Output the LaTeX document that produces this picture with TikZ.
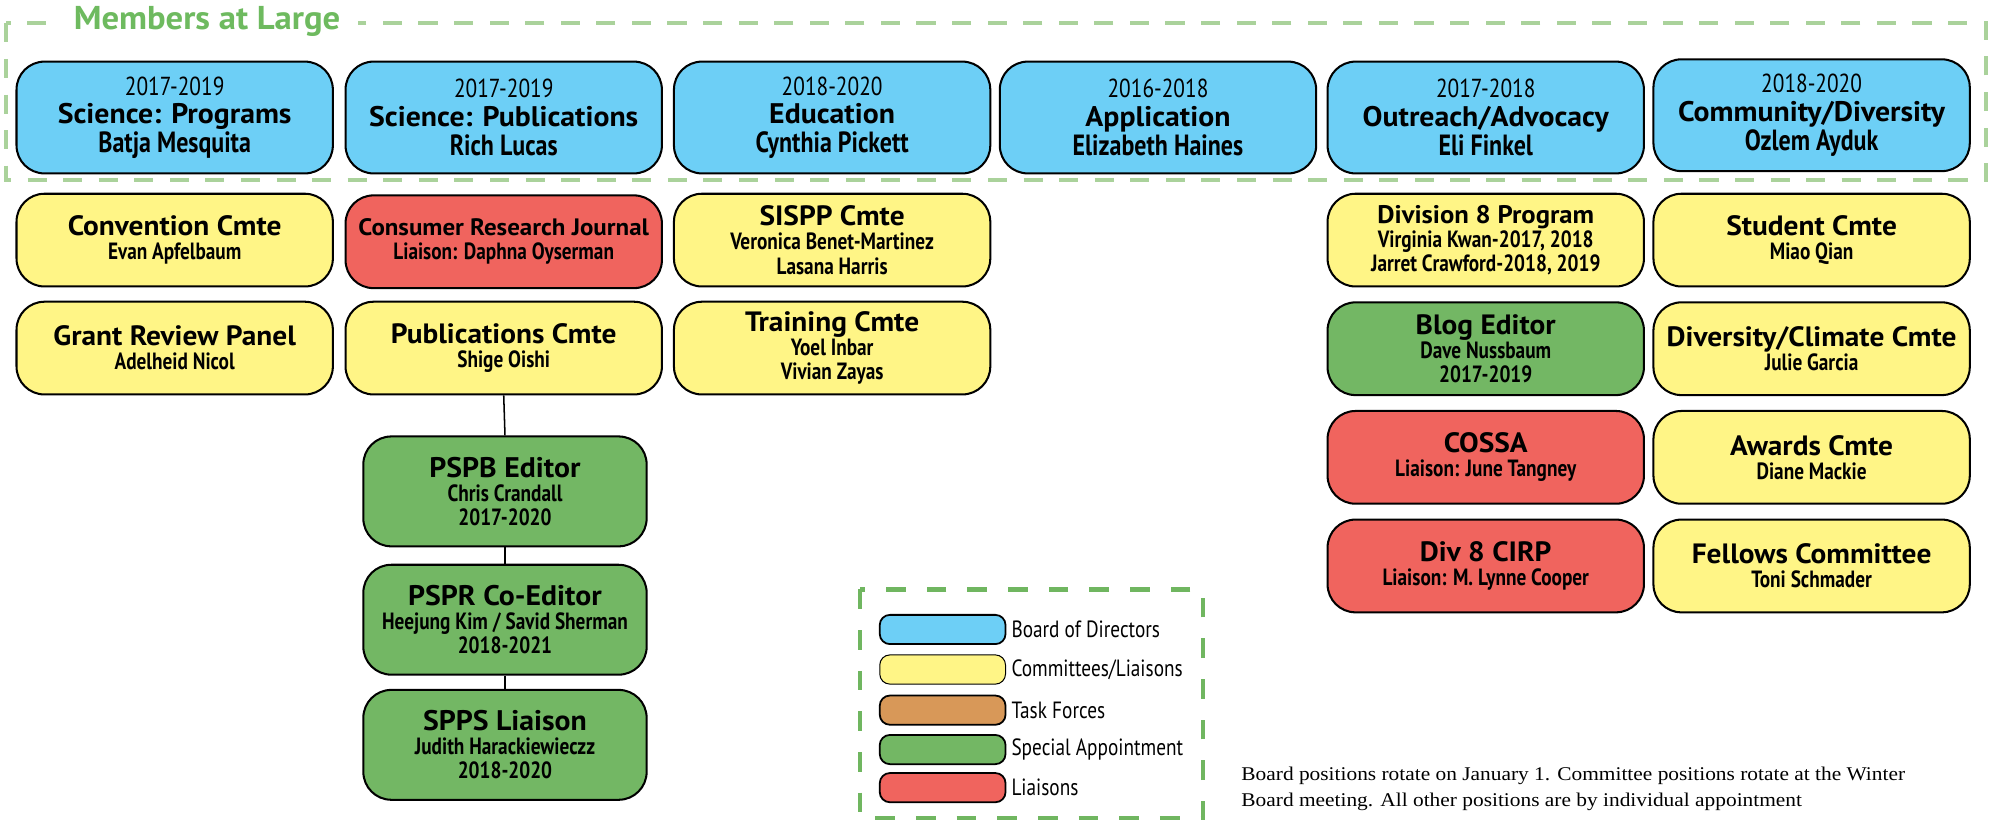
\documentclass[tikz,border=0pt]{standalone}
\usepackage{fontspec}
\setmainfont{PT Sans}
\newfontfamily\semifont[FakeStretch=1.05]{PT Sans}
\newfontfamily\condfont[FakeStretch=0.82]{PT Sans}
\newfontfamily\notefont[FakeStretch=1.1]{Liberation Serif}
\usepackage{xcolor}
\usetikzlibrary{positioning}

\definecolor{boardblue}{RGB}{109,207,246}
\definecolor{cmteyellow}{RGB}{255,245,134}
\definecolor{liaisonred}{RGB}{240,100,94}
\definecolor{specialgreen}{RGB}{115,183,100}
\definecolor{taskbrown}{RGB}{216,152,88}
\definecolor{largegreen}{RGB}{170,210,155}
\definecolor{legendgreen}{RGB}{112,182,96}
\definecolor{titlegreen}{RGB}{110,186,95}

% text pieces inside the boxes
\newcommand{\boxyear}[1]{{\condfont\fontsize{20.5}{22}\selectfont #1}}
\newcommand{\boxhead}[1]{{\semifont\bfseries\fontsize{22.3}{22}\selectfont #1}}
\newcommand{\bighead}[1]{{\semifont\bfseries\fontsize{22}{22}\selectfont #1}}
\newcommand{\midhead}[1]{{\semifont\bfseries\fontsize{20}{20}\selectfont #1}}
\newcommand{\boxwho}[1]{{\condfont\bfseries\fontsize{23}{22}\selectfont #1}}
\newcommand{\smallwho}[1]{{\condfont\bfseries\fontsize{18.5}{18}\selectfont #1}}
\newcommand{\condhead}[1]{{\semifont\bfseries\fontsize{18.7}{19}\selectfont #1}}

\tikzset{
  orgbox/.style={draw=black, line width=1.6pt, rounded corners=22pt,
    minimum width=249pt, align=center, inner sep=0pt},
  boardbox/.style={orgbox, fill=boardblue, minimum height=88pt,
    font=\fontsize{21}{22.5}\selectfont},
  cmtebox/.style={orgbox, fill=cmteyellow, minimum height=73pt,
    font=\fontsize{18}{19}\selectfont},
  liaisonbox/.style={orgbox, fill=liaisonred, minimum height=73pt,
    font=\fontsize{18}{19}\selectfont},
  specialbox/.style={orgbox, fill=specialgreen, minimum height=73pt,
    font=\fontsize{18}{19}\selectfont},
  editorbox/.style={specialbox, minimum width=223pt, minimum height=86.5pt},
  keybox/.style={draw=black, line width=1.4pt, rounded corners=8pt,
    minimum width=99pt, minimum height=23pt, inner sep=0pt},
  keytext/.style={anchor=west, inner sep=0pt,
    font=\condfont\fontsize{18.5}{20}\selectfont},
  link/.style={draw=black, line width=1.2pt}
}

\begin{document}
\begin{tikzpicture}[x=1pt, y=-1pt]
\useasboundingbox (0,0) rectangle (1568,649.4);

% Members at large frame
\draw[largegreen, line width=3pt, dash pattern=on 15pt off 13pt]
  (5,18.4) rectangle (1563.4,141.7);
\node[fill=white, inner xsep=14pt, inner ysep=2pt, text=titlegreen,
  font=\semifont\bfseries\fontsize{26}{26}\selectfont] (large) at (163,17) {Members at Large};

% Board of directors
\node[boardbox] (sciprog) at (137.5,92.5) {\boxyear{2017-2019}\\\boxhead{Science: Programs}\\\boxwho{Batja Mesquita}};
\node[boardbox] (scipub) at (396.5,92.5) {\boxyear{2017-2019}\\\boxhead{Science: Publications}\\\boxwho{Rich Lucas}};
\node[boardbox] (educ) at (655,92.5) {\boxyear{2018-2020}\\\boxhead{Education}\\\boxwho{Cynthia Pickett}};
\node[boardbox] (appl) at (911.5,92.5) {\boxyear{2016-2018}\\\boxhead{Application}\\\boxwho{Elizabeth Haines}};
\node[boardbox] (outreach) at (1169.5,92.5) {\boxyear{2017-2018}\\\boxhead{Outreach/Advocacy}\\\boxwho{Eli Finkel}};
\node[boardbox] (commdiv) at (1426,90.7) {\boxyear{2018-2020}\\\boxhead{Community/Diversity}\\\boxwho{Ozlem Ayduk}};

% Second row
\node[cmtebox] (conv) at (137.5,189) {\bighead{Convention Cmte}\\\smallwho{Evan Apfelbaum}};
\node[liaisonbox] (consumer) at (396.5,190.3) {\condhead{Consumer Research Journal}\\\smallwho{Liaison: Daphna Oyserman}};
\node[cmtebox] (sispp) at (655,189) {\bighead{SISPP Cmte}\\\smallwho{Veronica Benet-Martinez}\\\smallwho{Lasana Harris}};
\node[cmtebox] (divprog) at (1169.5,189) {\midhead{Division 8 Program}\\\smallwho{Virginia Kwan-2017, 2018}\\\smallwho{Jarret Crawford-2018, 2019}};
\node[cmtebox] (student) at (1426,189) {\bighead{Student Cmte}\\\smallwho{Miao Qian}};

% Third row
\node[cmtebox] (grant) at (137.5,274) {\bighead{Grant Review Panel}\\\smallwho{Adelheid Nicol}};
\node[cmtebox] (pubcmte) at (396.5,274) {\bighead{Publications Cmte}\\\smallwho{Shige Oishi}};
\node[cmtebox] (training) at (655,274) {\bighead{Training Cmte}\\\smallwho{Yoel Inbar}\\\smallwho{Vivian Zayas}};
\node[specialbox] (blog) at (1169.5,274.5) {\bighead{Blog Editor}\\\smallwho{Dave Nussbaum}\\\smallwho{2017-2019}};
\node[cmtebox] (divclim) at (1426,274.5) {\bighead{Diversity/Climate Cmte}\\\smallwho{Julie Garcia}};

% Right side, lower rows
\node[liaisonbox] (cossa) at (1169.5,360) {\bighead{COSSA}\\\smallwho{Liaison: June Tangney}};
\node[cmtebox] (awards) at (1426,360) {\bighead{Awards Cmte}\\\smallwho{Diane Mackie}};
\node[liaisonbox] (cirp) at (1169.5,445.5) {\bighead{Div 8 CIRP}\\\smallwho{Liaison: M. Lynne Cooper}};
\node[cmtebox] (fellows) at (1426,445.5) {\bighead{Fellows Committee}\\\smallwho{Toni Schmader}};

% Editors under the publications committee
\node[editorbox] (pspb) at (397.5,386.8) {\boxhead{PSPB Editor}\\\smallwho{Chris Crandall}\\\smallwho{2017-2020}};
\node[editorbox] (pspr) at (397.5,487.8) {\boxhead{PSPR Co-Editor}\\\smallwho{Heejung Kim / Savid Sherman}\\\smallwho{2018-2021}};
\node[editorbox] (spps) at (397.5,586.3) {\boxhead{SPPS Liaison}\\\smallwho{Judith Harackiewieczz}\\\smallwho{2018-2020}};
\draw[link] (pubcmte.south) -- (pspb.north);
\draw[link] (pspb.south) -- (pspr.north);
\draw[link] (pspr.south) -- (spps.north);

% Legend
\draw[legendgreen, line width=3.2pt, dash pattern=on 15.5pt off 16.5pt]
  (677,464) rectangle (947,644);
\node[keybox, fill=boardblue] (keyboard) at (742,495.5) {};
\node[keybox, fill=cmteyellow, line width=0.8pt] (keycmte) at (742,527) {};
\node[keybox, fill=taskbrown] (keytask) at (742,559) {};
\node[keybox, fill=specialgreen] (keyspecial) at (742,590) {};
\node[keybox, fill=liaisonred] (keyliaison) at (742,620) {};
\node[keytext] (keyboardtext) at (796,495.5) {Board of Directors};
\node[keytext] (keycmtetext) at (796,527) {Committees/Liaisons};
\node[keytext] (keytasktext) at (796,559) {Task Forces};
\node[keytext] (keyspecialtext) at (796,590) {Special Appointment};
\node[keytext] (keyliaisontext) at (796,620) {Liaisons};

% Note on rotation
\node[anchor=base west, align=left, inner sep=0pt,
  font=\notefont\fontsize{15.3}{21}\selectfont] (note) at (977,635)
  {Board positions rotate on January 1. Committee positions rotate at the Winter\\
   Board meeting. All other positions are by individual appointment};

\end{tikzpicture}
\end{document}
